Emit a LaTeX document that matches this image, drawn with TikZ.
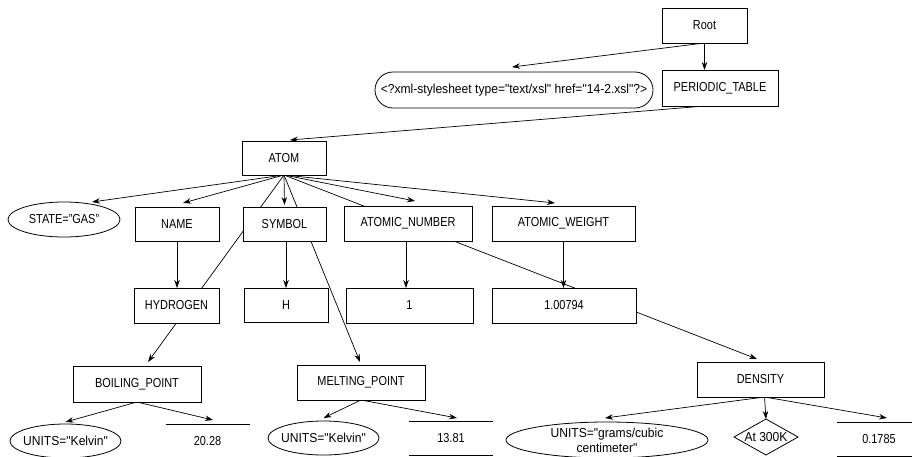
\documentclass[tikz,border=0pt]{standalone}
\usepackage{fontspec}
\setmainfont{Liberation Sans}[FakeStretch=0.84]
\newfontfamily\widefont{Liberation Sans}[FakeStretch=0.93]
\usetikzlibrary{shapes.geometric,shapes.misc,arrows.meta,calc}
\pgfdeclarelayer{bg}
\pgfsetlayers{bg,main}
\begin{document}
\begin{tikzpicture}[x=1pt,y=-1pt,
  font=\fontsize{13}{15}\selectfont,
  every node/.style={inner sep=0pt, outer sep=0pt, align=center},
  box/.style={draw, rectangle, fill=white, line width=0.8pt},
  oval/.style={draw, ellipse, fill=white, line width=0.8pt, inner xsep=-14pt, inner ysep=-8pt},
  pill/.style={draw, rounded rectangle, fill=white, line width=0.8pt},
  gem/.style={draw, diamond, aspect=1.8, fill=white, line width=0.8pt, inner xsep=-12pt, inner ysep=-6pt},
  valbox/.style={minimum width=84pt, minimum height=34pt},
  wide/.style={font=\fontsize{13}{15}\widefont},
  link/.style={line width=0.7pt, -{Stealth[length=8pt,width=5.5pt]}},
  vline/.style={line width=0.8pt},
]
\useasboundingbox (0,0) rectangle (912,456);

% nodes
\node[box, minimum width=85pt, minimum height=35pt] (root) at (704.5,25.5) {Root};
\node[pill, wide, minimum width=278pt, minimum height=36pt] (xsl) at (514,90) {<?xml-stylesheet type="text/xsl" href="14-2.xsl"?>};
\node[box, minimum width=116pt, minimum height=36pt] (pt) at (720,88) {PERIODIC\_TABLE};
\node[box, minimum width=84pt, minimum height=34pt] (atom) at (284,158) {ATOM};

\node[oval, minimum width=112pt, minimum height=35pt] (state) at (64,219.5) {STATE="GAS"};
\node[box, minimum width=84pt, minimum height=34pt] (name) at (177,224) {NAME};
\node[box, minimum width=83pt, minimum height=34pt] (symbol) at (284.5,224) {SYMBOL};
\node[box, minimum width=128pt, minimum height=35pt] (anum) at (408,223.5) {ATOMIC\_NUMBER};
\node[box, minimum width=143pt, minimum height=35pt] (aw) at (563.5,223.5) {ATOMIC\_WEIGHT};

\node[box, minimum width=85pt, minimum height=35pt] (hyd) at (176.5,305.5) {HYDROGEN};
\node[box, minimum width=84pt, minimum height=34pt] (h) at (286,305) {H};
\node[box, minimum width=127pt, minimum height=35pt] (one) at (409.5,305.5) {1};
\node[box, minimum width=144pt, minimum height=35pt] (wval) at (564,305.5) {1.00794};

\node[box, minimum width=128pt, minimum height=36pt] (bp) at (137,384) {BOILING\_POINT};
\node[box, minimum width=128pt, minimum height=35pt] (mp) at (361,382.5) {MELTING\_POINT};
\node[box, minimum width=127pt, minimum height=35pt] (dens) at (760.5,379.5) {DENSITY};

\node[oval, wide, minimum width=111pt, minimum height=34pt] (k1) at (65.5,441) {UNITS="Kelvin"};
\node[valbox] (v1) at (207.5,441) {20.28};
\node[oval, wide, minimum width=111pt, minimum height=34pt] (k2) at (323.5,438) {UNITS="Kelvin"};
\node[valbox] (v2) at (451,438) {13.81};
\node[oval, wide, minimum width=202pt, minimum height=36pt] (k3) at (607,440) {UNITS="grams/cubic\\centimeter"};
\node[gem, wide, minimum width=64pt, minimum height=36pt] (diam) at (766,437) {At 300K};
\node[valbox] (v3) at (879,439) {0.1785};

\foreach \v in {v1,v2,v3} {
  \draw[vline] (\v.north west) -- (\v.north east);
  \draw[vline] (\v.south west) -- (\v.south east);
}

% connectors
\begin{pgfonlayer}{bg}
\draw[link] (root.south) -- ([xshift=-2pt,yshift=5pt]xsl.north);
\draw[link] (root.south) -- (root.south |- pt.north);
\draw[link] ([xshift=-15pt]pt.south) -- ([xshift=6pt,yshift=1pt]atom.north);

\draw[link] (atom.south) -- ([xshift=28pt]state.north);
\draw[link] (atom.south) -- ([xshift=6pt,yshift=4pt]name.north);
\draw[link] (atom.south) -- ([yshift=2pt]symbol.north);
\draw[link] (atom.south) -- ([xshift=7pt,yshift=5pt]anum.north);
\draw[link] (atom.south) -- ([xshift=-8.5pt,yshift=3pt]aw.north);
\draw[link] (atom.south) -- ([xshift=11pt,yshift=4pt]bp.north);
\draw[link] (atom.south) -- ([xshift=-1pt,yshift=3pt]mp.north);
\draw[link] (atom.south) -- ([xshift=-3.5pt,yshift=3pt]dens.north);

\draw[link] (name.south) -- (name.south |- hyd.north);
\draw[link] (h.north |- symbol.south) -- (h.north);
\draw[link] ([xshift=-2pt]anum.south) -- ([xshift=-2pt]anum.south |- one.north);
\draw[link] (aw.south) -- (aw.south |- wval.north);

\draw[link] (bp.south) -- ([yshift=2pt]k1.north);
\draw[link] (bp.south) -- ([xshift=5.5pt,yshift=4pt]v1.north);
\draw[link] (mp.south) -- ([yshift=3pt]k2.north);
\draw[link] (mp.south) -- ([xshift=6pt,yshift=3pt]v2.north);
\draw[link] ([xshift=4pt]dens.south) -- ([xshift=-2pt,yshift=4pt]k3.north);
\draw[link] ([xshift=4pt]dens.south) -- (diam.north);
\draw[link] ([xshift=4pt]dens.south) -- ([xshift=8pt,yshift=4pt]v3.north);
\end{pgfonlayer}
\end{tikzpicture}
\end{document}
